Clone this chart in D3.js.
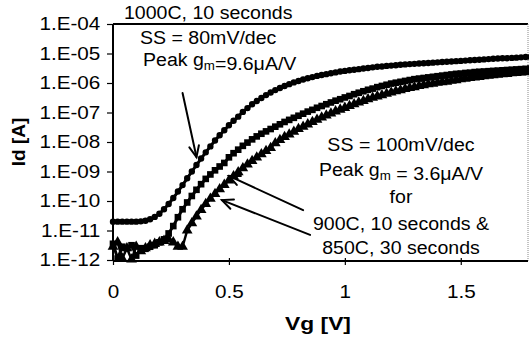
<!DOCTYPE html>
<html>
<head>
<meta charset="utf-8">
<script src="https://cdn.jsdelivr.net/npm/d3@7"></script>
<style>
  body { margin: 0; background: #fff; }
  svg { display: block; }
  text { font-family: "Liberation Sans", Arial, Helvetica, sans-serif; fill: #000; }
</style>
</head>
<body>
<svg id="chart" width="529" height="339"></svg>
<script>
// Gate-voltage sweep (V), one reading every 20 mV
const vg = d3.range(91).map(i => +(i * 0.02).toFixed(2));

// Drain current, as log10(Id [A]), for each anneal
const logId1000C10s = [
  -10.70, -10.70, -10.70, -10.70, -10.70, -10.70, -10.69, -10.67, -10.62, -10.54,
  -10.43, -10.28, -10.10, -9.90, -9.68, -9.46, -9.23, -9.00, -8.78, -8.56,
  -8.35, -8.15, -7.95, -7.77, -7.60, -7.43, -7.28, -7.14, -6.98, -6.85,
  -6.72, -6.61, -6.51, -6.41, -6.32, -6.24, -6.17, -6.10, -6.04, -5.98,
  -5.93, -5.88, -5.84, -5.80, -5.76, -5.73, -5.70, -5.67, -5.64, -5.61,
  -5.59, -5.57, -5.55, -5.53, -5.51, -5.49, -5.47, -5.45, -5.44, -5.42,
  -5.41, -5.40, -5.38, -5.37, -5.36, -5.35, -5.34, -5.33, -5.32, -5.31,
  -5.30, -5.29, -5.28, -5.27, -5.26, -5.25, -5.24, -5.23, -5.22, -5.21,
  -5.20, -5.19, -5.18, -5.17, -5.16, -5.16, -5.15, -5.14, -5.13, -5.12,
  -5.12
];
const logId900C10s = [
  -11.45, -11.95, -11.55, -11.60, -11.50, -11.85, -11.60, -11.62, -11.55, -11.50,
  -11.40, -11.30, -11.10, -10.85, -10.55, -10.28, -10.05, -9.83, -9.62, -9.43,
  -9.25, -9.10, -8.96, -8.83, -8.71, -8.52, -8.38, -8.26, -8.13, -8.02,
  -7.91, -7.81, -7.72, -7.64, -7.56, -7.48, -7.40, -7.32, -7.25, -7.18,
  -7.11, -7.04, -6.97, -6.91, -6.84, -6.78, -6.72, -6.66, -6.60, -6.55,
  -6.49, -6.44, -6.38, -6.33, -6.28, -6.23, -6.19, -6.14, -6.10, -6.06,
  -6.02, -5.99, -5.96, -5.93, -5.90, -5.87, -5.85, -5.83, -5.81, -5.79,
  -5.77, -5.75, -5.73, -5.71, -5.69, -5.68, -5.66, -5.65, -5.63, -5.62,
  -5.61, -5.60, -5.59, -5.58, -5.57, -5.56, -5.55, -5.54, -5.53, -5.52,
  -5.51
];
const logId850C30s = [
  -11.55, -11.40, -11.95, -11.60, -11.98, -11.55, -11.70, -11.60, -11.50, -11.45,
  -11.40, -11.35, -11.30, -11.40, -11.55, -11.55, -11.00, -10.75, -10.52, -10.30,
  -10.10, -9.92, -9.76, -9.60, -9.45, -9.30, -9.16, -9.02, -8.89, -8.76,
  -8.64, -8.52, -8.41, -8.30, -8.20, -8.04, -7.93, -7.83, -7.74, -7.65,
  -7.56, -7.48, -7.40, -7.32, -7.24, -7.17, -7.10, -7.03, -6.96, -6.90,
  -6.84, -6.78, -6.72, -6.66, -6.61, -6.55, -6.50, -6.45, -6.41, -6.36,
  -6.32, -6.28, -6.24, -6.20, -6.17, -6.14, -6.10, -6.07, -6.04, -6.02,
  -5.99, -5.97, -5.95, -5.92, -5.90, -5.87, -5.85, -5.83, -5.81, -5.79,
  -5.77, -5.75, -5.73, -5.72, -5.70, -5.69, -5.67, -5.66, -5.64, -5.63,
  -5.62
];

const yTickValues = [1e-4, 1e-5, 1e-6, 1e-7, 1e-8, 1e-9, 1e-10, 1e-11, 1e-12];
const yTickLabels = ["1.E-04", "1.E-05", "1.E-06", "1.E-07", "1.E-08", "1.E-09", "1.E-10", "1.E-11", "1.E-12"];
const xTickValues = [0, 0.5, 1, 1.5];
const xTickLabels = ["0", "0.5", "1", "1.5"];

const svg = d3.select("#chart");
const plot = { left: 113, right: 528, top: 24, bottom: 261 };

const x = d3.scaleLinear().domain([0, 1.79]).range([plot.left, plot.right]);
const y = d3.scaleLog().domain([1e-12, 1e-4]).range([260, plot.top]);

// frame: solid top edge, faint dotted right edge
svg.append("line")
  .attr("x1", plot.left).attr("x2", plot.right)
  .attr("y1", plot.top).attr("y2", plot.top)
  .attr("stroke", "#000").attr("stroke-width", 2);
svg.append("line")
  .attr("x1", plot.right).attr("x2", plot.right)
  .attr("y1", plot.top).attr("y2", plot.bottom)
  .attr("stroke", "#888").attr("stroke-width", 1).attr("stroke-dasharray", "1,1");

// axes
const yAxis = svg.append("g")
  .attr("transform", `translate(${plot.left},0)`)
  .call(d3.axisLeft(y).tickValues(yTickValues)
    .tickFormat((d, i) => yTickLabels[i]).tickSize(6).tickPadding(5).tickSizeOuter(0));
yAxis.select(".domain").attr("d", `M0,${plot.top}V${plot.bottom}`).attr("stroke-width", 2);
yAxis.selectAll(".tick line").attr("stroke-width", 1.2);
yAxis.selectAll("text")
  .attr("font-size", 18).attr("font-family", null)
  .attr("transform", "scale(1.15,1)");

const xAxis = svg.append("g")
  .attr("transform", `translate(0,${plot.bottom})`)
  .call(d3.axisBottom(x).tickValues(xTickValues)
    .tickFormat((d, i) => xTickLabels[i]).tickSize(4).tickPadding(20).tickSizeOuter(0));
xAxis.select(".domain").attr("d", `M${plot.left},0H${plot.right}`).attr("stroke-width", 2);
xAxis.selectAll(".tick line").attr("y1", -3).attr("stroke-width", 1.2);
xAxis.selectAll("text")
  .attr("font-size", 18).attr("font-family", null)
  .attr("transform", "scale(1.15,1)");

// axis titles
svg.append("text")
  .attr("transform", "translate(25,142) rotate(-90)")
  .attr("text-anchor", "middle").attr("font-size", 19).attr("font-weight", "bold")
  .text("Id [A]");
svg.append("text")
  .attr("transform", "translate(318,330) scale(1.2,1)")
  .attr("text-anchor", "middle").attr("font-size", 19).attr("font-weight", "bold")
  .text("Vg [V]");

// curves: dense filled markers joined by a heavy line
const series = [
  { values: logId850C30s, symbol: d3.symbolTriangle, size: 50, width: 2.5 },
  { values: logId900C10s, symbol: d3.symbolSquare, size: 44, width: 3 },
  { values: logId1000C10s, symbol: d3.symbolCircle, size: 32, width: 3 }
];
const line = d3.line().x(d => x(d.v)).y(d => y(d.id));
series.forEach(s => {
  const pts = vg.map((v, i) => ({ v, id: Math.pow(10, s.values[i]) }));
  const g = svg.append("g");
  g.append("path").datum(pts)
    .attr("d", line).attr("fill", "none").attr("stroke", "#000")
    .attr("stroke-width", s.width).attr("stroke-linejoin", "round");
  g.selectAll("path.mk").data(pts).join("path")
    .attr("class", "mk")
    .attr("transform", d => `translate(${x(d.v)},${y(d.id)})`)
    .attr("d", d3.symbol(s.symbol, s.size)())
    .attr("fill", "#000");
});

// annotation text
function note(px, py, anchor, parts) {
  const t = svg.append("text")
    .attr("transform", `translate(${px},${py}) scale(1.03,1)`)
    .attr("text-anchor", anchor).attr("font-size", 19);
  parts.forEach(p => {
    if (typeof p === "string") {
      t.append("tspan").text(p);
    } else {
      t.append("tspan").attr("font-size", 13).attr("dy", 4).text(p.sub);
      t.append("tspan").attr("dy", -4).text("");
    }
  });
  return t;
}
note(124, 19, "start", ["1000C, 10 seconds"]);
note(140, 44, "start", ["SS = 80mV/dec"]);
note(143, 66, "start", ["Peak g", { sub: "m" }, "=9.6\u03bcA/V"]);
note(401, 151, "middle", ["SS = 100mV/dec"]);
note(401, 176, "middle", ["Peak g", { sub: "m" }, " = 3.6\u03bcA/V"]);
note(401, 203, "middle", ["for"]);
note(401, 230, "middle", ["900C, 10 seconds &"]);
note(401, 254, "middle", ["850C, 30 seconds"]);

// arrows, given in data units (Vg, Id)
function arrow(v0, i0, v1, i1) {
  const x0 = x(v0), y0 = y(i0), x1 = x(v1), y1 = y(i1);
  const ang = Math.atan2(y1 - y0, x1 - x0);
  const len = 12, spread = 0.42;
  const g = svg.append("g").attr("stroke", "#000").attr("stroke-width", 2)
    .attr("fill", "none").attr("stroke-linecap", "round");
  g.append("line").attr("x1", x0).attr("y1", y0).attr("x2", x1).attr("y2", y1);
  g.append("path").attr("d",
    `M${x1 - len * Math.cos(ang - spread)},${y1 - len * Math.sin(ang - spread)}` +
    `L${x1},${y1}` +
    `L${x1 - len * Math.cos(ang + spread)},${y1 - len * Math.sin(ang + spread)}`);
}
arrow(0.30, Math.pow(10, -6.34), 0.36, Math.pow(10, -8.51));
arrow(0.82, Math.pow(10, -10.31), 0.50, Math.pow(10, -9.15));
arrow(0.85, Math.pow(10, -11.15), 0.47, Math.pow(10, -9.97));
</script>
</body>
</html>
